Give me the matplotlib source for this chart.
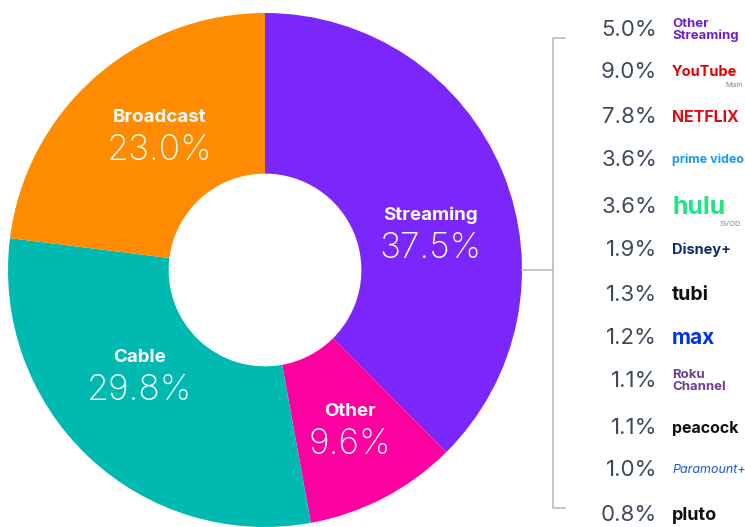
# Share of TV viewing donut with streaming breakdown

import matplotlib.pyplot as plt

plt.rcParams['font.family'] = ['Inter', 'DejaVu Sans']

# Main categories (clockwise from top)
categories = ['Streaming', 'Other', 'Cable', 'Broadcast']
shares = [37.5, 9.6, 29.8, 23.0]
colors = ['#7b27fb', '#ff00a0', '#00bab2', '#ff8c00']

# Streaming breakdown
services = ['Other\nStreaming', 'YouTube', 'NETFLIX', 'prime video', 'hulu', 'Disney+',
            'tubi', 'max', 'Roku\nChannel', 'peacock', 'Paramount+', 'pluto']
service_shares = [5.0, 9.0, 7.8, 3.6, 3.6, 1.9, 1.3, 1.2, 1.1, 1.1, 1.0, 0.8]
service_colors = ['#6a1fd0', '#e00000', '#e50914', '#1a98ff', '#1ce783', '#112a6b',
                  '#111111', '#0032f0', '#6c3c97', '#111111', '#1a5bd8', '#111111']
service_sizes = [9.5, 10.5, 11.5, 9, 18, 10.5, 14, 15, 9.5, 11.5, 9, 13]

W, H = 745, 527
fig = plt.figure(figsize=(W / 100, H / 100), dpi=100)
ax = fig.add_axes([0, 0, 1, 1])

cx, cy, r = 265, H - 270, 257
ax.pie(shares, colors=colors, startangle=90, counterclock=False,
       center=(cx, cy), radius=r, frame=True,
       wedgeprops=dict(width=r * 0.625, linewidth=0))
ax.set_xlim(0, W)
ax.set_ylim(0, H)
ax.set_aspect('equal')
ax.axis('off')

# labels inside the donut (pixel positions from top)
label_pos = {'Streaming': (430, 215), 'Other': (350, 412),
             'Cable': (140, 358), 'Broadcast': (160, 117)}
for cat, val in zip(categories, shares):
    x, y = label_pos[cat]
    ax.text(x, H - y, cat, color='white', fontsize=13.5, fontweight='bold',
            ha='center', va='center')
    ax.text(x, H - y - 33, f'{val:.1f}%', color='white', fontsize=25.5,
            fontweight='light', ha='center', va='center')

# bracket
bx = 553
ax.plot([bx + 12, bx, bx, bx + 12], [H - 38, H - 38, H - 508, H - 508],
        color='#b8bcc4', lw=1.2)
ax.plot([522, bx], [H - 270, H - 270], color='#b8bcc4', lw=1.2)

# streaming list
row_y = [30, 72, 117, 160, 207, 250, 295, 338, 381, 428, 470, 515]
for name, val, col, size, y in zip(services, service_shares, service_colors,
                                   service_sizes, row_y):
    ax.text(657, H - y, f'{val:.1f}%', color='#3d4a5c', fontsize=16,
            ha='right', va='center')
    style = 'italic' if name == 'Paramount+' else 'normal'
    weight = 'normal' if name == 'Paramount+' else 'bold'
    ax.text(672, H - y, name, color=col, fontsize=size, fontweight=weight,
            fontstyle=style, ha='left', va='center', linespacing=0.95)
ax.text(743, H - 85, 'Main', color='#888888', fontsize=5.5, ha='right', va='center')
ax.text(741, H - 224, 'SVOD', color='#888888', fontsize=5.5, ha='right', va='center')

fig.savefig('out.png', dpi=100)
